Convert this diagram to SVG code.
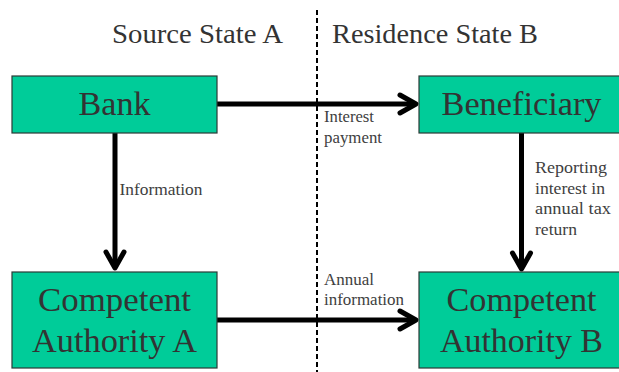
<svg xmlns="http://www.w3.org/2000/svg" width="619" height="372" viewBox="0 0 619 372">
<style>
  .box { fill: #00CC99; stroke: #2a3a36; stroke-width: 1.2; }
  .big { font-size: 34px; fill: #333333; text-anchor: middle; }
  .hdr { font-size: 28px; fill: #333333; }
  .lbl { font-size: 17px; fill: #404040; }
  .conn { stroke: #000000; stroke-width: 5; fill: none; marker-end: url(#arrow); }
  .divider { stroke: #000000; stroke-width: 2; stroke-dasharray: 5 3; fill: none; }
</style>
<defs>
  <marker id="arrow" markerUnits="userSpaceOnUse" markerWidth="30" markerHeight="30" viewBox="-25 -15 30 30" refX="0" refY="0" orient="auto">
    <path d="M-16,-9 L0,0 L-16,9" fill="none" stroke="#000000" stroke-width="5" stroke-linecap="round" stroke-linejoin="round"/>
  </marker>
</defs>
<rect width="619" height="372" fill="#ffffff"/>
<g font-family="Liberation Serif, Times New Roman, DejaVu Serif, serif">
<g id="headers">
  <text class="hdr" x="112" y="43" textLength="171" lengthAdjust="spacingAndGlyphs">Source State A</text>
  <text class="hdr" x="332" y="43" textLength="206" lengthAdjust="spacingAndGlyphs">Residence State B</text>
</g>
<line class="divider" x1="317" y1="10" x2="317" y2="372"/>
<g id="connectors">
  <line class="conn" x1="217" y1="104" x2="416" y2="104"/>
  <line class="conn" x1="115" y1="133" x2="115" y2="268"/>
  <line class="conn" x1="521.5" y1="133" x2="521.5" y2="269"/>
  <line class="conn" x1="217" y1="320" x2="416" y2="320"/>
  <text class="lbl" x="324" y="122" textLength="50" lengthAdjust="spacingAndGlyphs">Interest</text>
  <text class="lbl" x="324" y="143" textLength="58" lengthAdjust="spacingAndGlyphs">payment</text>
  <text class="lbl" x="119.5" y="195" textLength="83" lengthAdjust="spacingAndGlyphs">Information</text>
  <text class="lbl" x="535" y="173" textLength="72" lengthAdjust="spacingAndGlyphs">Reporting</text>
  <text class="lbl" x="535" y="194" textLength="70" lengthAdjust="spacingAndGlyphs">interest in</text>
  <text class="lbl" x="535" y="214" textLength="76" lengthAdjust="spacingAndGlyphs">annual tax</text>
  <text class="lbl" x="535" y="235" textLength="42" lengthAdjust="spacingAndGlyphs">return</text>
  <text class="lbl" x="324" y="285" textLength="50" lengthAdjust="spacingAndGlyphs">Annual</text>
  <text class="lbl" x="324" y="305" textLength="80" lengthAdjust="spacingAndGlyphs">information</text>
</g>
<g id="bank">
  <rect class="box" x="12" y="76" width="205" height="57"/>
  <text class="big" x="114.5" y="115" textLength="72" lengthAdjust="spacingAndGlyphs">Bank</text>
</g>
<g id="beneficiary">
  <rect class="box" x="419" y="76" width="205" height="57"/>
  <text class="big" x="521.5" y="115" textLength="160" lengthAdjust="spacingAndGlyphs">Beneficiary</text>
</g>
<g id="authority-a">
  <rect class="box" x="12" y="272" width="205" height="96"/>
  <text class="big" x="114.5" y="311" textLength="153" lengthAdjust="spacingAndGlyphs">Competent</text>
  <text class="big" x="114.5" y="352" textLength="165" lengthAdjust="spacingAndGlyphs">Authority A</text>
</g>
<g id="authority-b">
  <rect class="box" x="419" y="272" width="205" height="96"/>
  <text class="big" x="521.5" y="311" textLength="150" lengthAdjust="spacingAndGlyphs">Competent</text>
  <text class="big" x="521.5" y="352" textLength="163" lengthAdjust="spacingAndGlyphs">Authority B</text>
</g>
</g>
</svg>
